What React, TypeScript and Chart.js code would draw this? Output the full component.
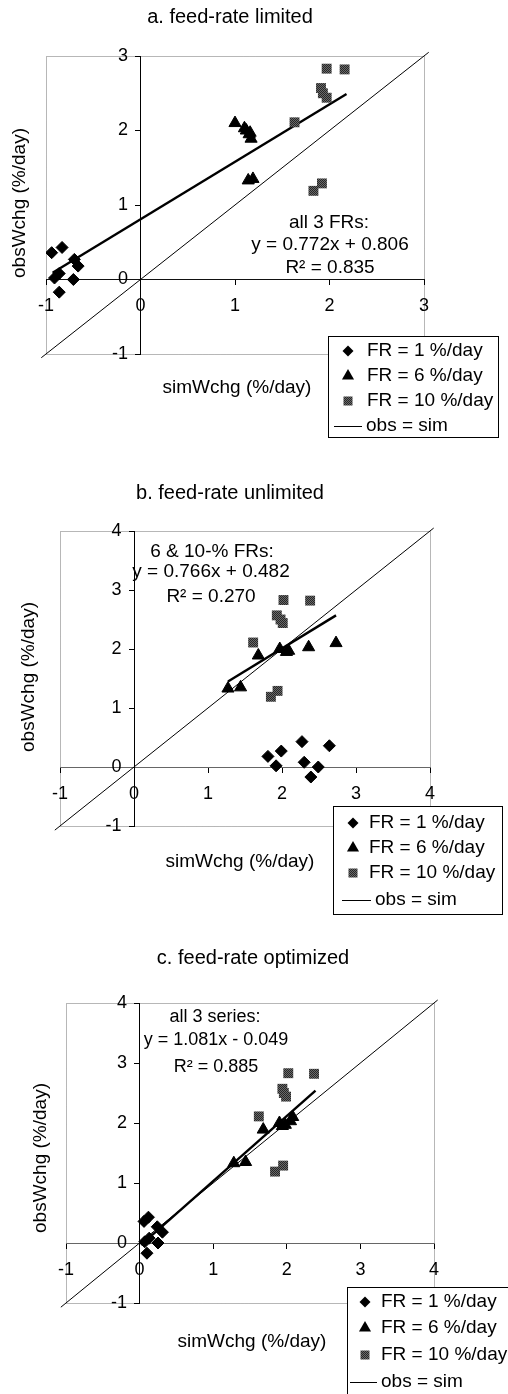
import React, { useEffect, useRef } from 'react';
import { Chart, registerables } from 'chart.js';

Chart.register(...registerables);

const FONT = "'Liberation Sans', Arial, Helvetica, sans-serif";

// observed weight change (%/day), shared by the three panels
const obsFR1 = [0.36, 0.43, 0.27, 0.18, 0.02, 0.08, 0.0, -0.17];
const obsFR6 = [1.33, 1.35, 1.89, 1.95, 2.0, 1.97, 2.03, 2.1];
const obsFR10 = [2.83, 2.82, 2.57, 2.5, 2.44, 2.11, 1.19, 1.29];

// simulated weight change (%/day) – a. feed-rate limited
const simA_FR1 = [-0.94, -0.83, -0.7, -0.66, -0.91, -0.86, -0.71, -0.86];
const simA_FR6 = [1.14, 1.19, 1.17, 1.15, 1.12, 1.16, 1.1, 1.0];
const simA_FR10 = [1.97, 2.16, 1.91, 1.93, 1.97, 1.63, 1.83, 1.92];
// b. feed-rate unlimited
const simB_FR1 = [2.64, 2.27, 1.99, 1.81, 1.92, 2.3, 2.49, 2.39];
const simB_FR6 = [1.27, 1.44, 1.68, 2.06, 1.97, 2.09, 2.36, 2.73];
const simB_FR10 = [2.02, 2.38, 1.93, 1.98, 2.01, 1.61, 1.85, 1.94];
// c. feed-rate optimized
const simC_FR1 = [0.06, 0.12, 0.24, 0.31, 0.07, 0.13, 0.25, 0.1];
const simC_FR6 = [1.28, 1.44, 1.68, 1.94, 1.9, 1.98, 2.05, 2.08];
const simC_FR10 = [2.02, 2.37, 1.94, 1.96, 1.99, 1.62, 1.84, 1.95];

// regression line end points
const fitA_x = [-0.93, 2.18];
const fitA_y = [0.09, 2.49];
const fitB_x = [1.27, 2.73];
const fitB_y = [1.45, 2.57];
const fitC_x = [0.02, 2.39];
const fitC_y = [-0.03, 2.54];

// obs = sim line end points
const identityA = [-1.05, 3.05];
const identityBC = [-1.07, 4.05];

// tick values
const ticksA = [-1, 0, 1, 2, 3];
const ticksBC = [-1, 0, 1, 2, 3, 4];

const legendLabels = ['FR = 1 %/day', 'FR = 6 %/day', 'FR = 10 %/day', 'obs = sim'];
const panelTitles = ['a. feed-rate limited', 'b. feed-rate unlimited', 'c. feed-rate optimized'];
const xTitle = 'simWchg (%/day)';
const yTitle = 'obsWchg (%/day)';
const eqA = ['all 3 FRs:', 'y = 0.772x + 0.806', 'R\u00B2 = 0.835'];
const eqB = ['6 & 10-% FRs:', 'y = 0.766x + 0.482', 'R\u00B2 = 0.270'];
const eqC = ['all 3 series:', 'y = 1.081x - 0.049', 'R\u00B2 = 0.885'];

type Panel = {
  top: number;
  height: number;
  area: { l: number; r: number; t: number; b: number };
  ticks: number[];
  sim1: number[];
  sim6: number[];
  sim10: number[];
  fitX: number[];
  fitY: number[];
  identity: number[];
  title: string;
  titlePos: [number, number];
  eq: string[];
  eqPos: [number, number][];
  xTitlePos: [number, number];
  yTitlePos: [number, number];
  legend: { box: [number, number, number, number]; rows: number[]; markerX: number; textX: number; lineX: [number, number] };
  eqSize: number;
};

const panels: Panel[] = [
  {
    top: 0,
    height: 460,
    area: { l: 46, r: 424, t: 56, b: 354 },
    ticks: ticksA,
    sim1: simA_FR1,
    sim6: simA_FR6,
    sim10: simA_FR10,
    fitX: fitA_x,
    fitY: fitA_y,
    identity: identityA,
    title: panelTitles[0],
    titlePos: [230, 17],
    eq: eqA,
    eqPos: [[329, 223], [330, 245], [330, 268]],
    xTitlePos: [237, 388],
    yTitlePos: [20, 203],
    legend: { box: [328, 336, 498, 437], rows: [351, 376, 401, 426], markerX: 348, textX: 367, lineX: [334, 362] },
    eqSize: 19,
  },
  {
    top: 460,
    height: 470,
    area: { l: 60, r: 430, t: 531, b: 826 },
    ticks: ticksBC,
    sim1: simB_FR1,
    sim6: simB_FR6,
    sim10: simB_FR10,
    fitX: fitB_x,
    fitY: fitB_y,
    identity: identityBC,
    title: panelTitles[1],
    titlePos: [230, 493],
    eq: eqB,
    eqPos: [[212, 552], [211, 572], [211, 597]],
    xTitlePos: [240, 862],
    yTitlePos: [29, 677],
    legend: { box: [333, 806, 502, 914], rows: [823, 848, 873, 900], markerX: 353, textX: 369, lineX: [342, 371] },
    eqSize: 19,
  },
  {
    top: 930,
    height: 464,
    area: { l: 66, r: 434, t: 1003, b: 1303 },
    ticks: ticksBC,
    sim1: simC_FR1,
    sim6: simC_FR6,
    sim10: simC_FR10,
    fitX: fitC_x,
    fitY: fitC_y,
    identity: identityBC,
    title: panelTitles[2],
    titlePos: [253, 958],
    eq: eqC,
    eqPos: [[215, 1017], [216, 1040], [216, 1067]],
    xTitlePos: [252, 1342],
    yTitlePos: [41, 1158],
    legend: { box: [347, 1287, 512, 1400], rows: [1302, 1328, 1355, 1382], markerX: 365, textX: 381, lineX: [350, 377] },
    eqSize: 18,
  },
];

function makePattern(): CanvasPattern | string {
  const c = document.createElement('canvas');
  c.width = 2;
  c.height = 2;
  const g = c.getContext('2d');
  if (!g) return '#505050';
  g.fillStyle = '#6a6a6a';
  g.fillRect(0, 0, 2, 2);
  g.fillStyle = '#262626';
  g.fillRect(0, 0, 1, 1);
  g.fillRect(1, 1, 1, 1);
  const pat = g.createPattern(c, 'repeat');
  return pat || '#505050';
}

function zip(xs: number[], ys: number[]) {
  return xs.map((x, i) => ({ x, y: ys[i] }));
}

function drawMarker(ctx: CanvasRenderingContext2D, kind: number, x: number, y: number, fill: any) {
  ctx.save();
  ctx.fillStyle = fill;
  ctx.beginPath();
  if (kind === 0) {
    const r = 5.5;
    ctx.moveTo(x, y - r);
    ctx.lineTo(x + r, y);
    ctx.lineTo(x, y + r);
    ctx.lineTo(x - r, y);
    ctx.closePath();
    ctx.fill();
  } else if (kind === 1) {
    const r = 7;
    ctx.moveTo(x, y - r);
    ctx.lineTo(x + r * 0.866, y + r * 0.5);
    ctx.lineTo(x - r * 0.866, y + r * 0.5);
    ctx.closePath();
    ctx.fill();
  } else {
    ctx.fillRect(x - 4.5, y - 4.5, 9, 9);
  }
  ctx.restore();
}

function buildChart(canvas: HTMLCanvasElement, p: Panel) {
  const off = p.top;
  const pattern = makePattern();
  const axisMax = p.ticks[p.ticks.length - 1];
  const axisMin = p.ticks[0];

  const deco = {
    id: 'deco' + off,
    beforeDraw(chart: any) {
      const ctx: CanvasRenderingContext2D = chart.ctx;
      const a = chart.chartArea;
      ctx.save();
      ctx.fillStyle = '#ffffff';
      ctx.fillRect(0, 0, chart.width, chart.height);
      ctx.strokeStyle = '#6f6f6f';
      ctx.lineWidth = 1;
      ctx.setLineDash([1, 1]);
      ctx.strokeRect(Math.round(a.left) + 0.5, Math.round(a.top) + 0.5, Math.round(a.right - a.left), Math.round(a.bottom - a.top));
      ctx.restore();
    },
    afterDraw(chart: any) {
      const ctx: CanvasRenderingContext2D = chart.ctx;
      ctx.save();
      ctx.fillStyle = '#000';
      ctx.textAlign = 'center';
      ctx.textBaseline = 'middle';
      // panel title
      ctx.font = `20px ${FONT}`;
      ctx.fillText(p.title, p.titlePos[0], p.titlePos[1] - off);
      // regression annotation
      ctx.font = `${p.eqSize}px ${FONT}`;
      p.eq.forEach((t, i) => ctx.fillText(t, p.eqPos[i][0], p.eqPos[i][1] - off));
      // axis titles
      ctx.font = `19px ${FONT}`;
      ctx.fillText(xTitle, p.xTitlePos[0], p.xTitlePos[1] - off);
      ctx.save();
      ctx.translate(p.yTitlePos[0], p.yTitlePos[1] - off);
      ctx.rotate(-Math.PI / 2);
      ctx.fillText(yTitle, 0, 0);
      ctx.restore();
      // legend
      const [l, t, r, b] = p.legend.box;
      ctx.fillStyle = '#fff';
      ctx.fillRect(l, t - off, r - l, b - t);
      ctx.strokeStyle = '#000';
      ctx.lineWidth = 1;
      ctx.strokeRect(l + 0.5, t - off + 0.5, r - l, b - t);
      ctx.font = `19px ${FONT}`;
      ctx.textAlign = 'left';
      legendLabels.forEach((lab, i) => {
        const y = p.legend.rows[i] - off;
        if (i < 3) {
          drawMarker(ctx, i, p.legend.markerX, y, i === 2 ? pattern : '#000');
        } else {
          ctx.beginPath();
          ctx.strokeStyle = '#000';
          ctx.lineWidth = 1;
          ctx.moveTo(p.legend.lineX[0], Math.round(y) + 0.5);
          ctx.lineTo(p.legend.lineX[1], Math.round(y) + 0.5);
          ctx.stroke();
        }
        ctx.fillStyle = '#000';
        ctx.fillText(lab, i < 3 ? p.legend.textX : p.legend.lineX[1] + 4, y);
      });
      ctx.restore();
    },
  };

  const tickFont = { size: 18, family: FONT };
  const xDash = off === 0 ? [] : [2, 1];
  const xColor = off === 0 ? '#111' : '#666';

  return new Chart(canvas, {
    type: 'scatter',
    data: {
      datasets: [
        {
          label: legendLabels[0],
          data: zip(p.sim1, obsFR1),
          pointStyle: 'rectRot',
          pointRadius: 6,
          backgroundColor: '#000',
          borderColor: '#000',
          borderWidth: 1,
        },
        {
          label: legendLabels[1],
          data: zip(p.sim6, obsFR6),
          pointStyle: 'triangle',
          pointRadius: 7,
          backgroundColor: '#000',
          borderColor: '#000',
          borderWidth: 1,
        },
        {
          label: legendLabels[2],
          data: zip(p.sim10, obsFR10),
          pointStyle: 'rect',
          pointRadius: 7,
          backgroundColor: pattern as any,
          borderColor: 'rgba(0,0,0,0)',
          borderWidth: 0,
        },
        {
          label: 'regression',
          data: zip(p.fitX, p.fitY),
          showLine: true,
          borderColor: '#000',
          borderWidth: 2.4,
          pointRadius: 0,
          clip: false as any,
        },
        {
          label: legendLabels[3],
          data: zip(p.identity, p.identity),
          showLine: true,
          borderColor: '#000',
          borderWidth: 1,
          pointRadius: 0,
          clip: false as any,
        },
      ],
    },
    options: {
      responsive: false,
      animation: false,
      events: [],
      layout: {
        padding: {
          left: p.area.l,
          right: 508 - p.area.r,
          top: p.area.t - off,
          bottom: off + p.height - p.area.b,
        },
      },
      plugins: { legend: { display: false }, tooltip: { enabled: false }, title: { display: false } },
      scales: {
        x: {
          type: 'linear',
          min: axisMin,
          max: axisMax,
          position: { y: 0 } as any,
          afterBuildTicks: (s: any) => {
            s.ticks = p.ticks.map((v) => ({ value: v }));
          },
          grid: { drawOnChartArea: false, drawTicks: true, tickLength: 5, color: '#000' },
          border: { display: true, color: xColor, width: 1, dash: xDash },
          ticks: { font: tickFont, color: '#000', padding: 11, maxRotation: 0, autoSkip: false },
        },
        y: {
          type: 'linear',
          min: axisMin,
          max: axisMax,
          position: { x: 0 } as any,
          afterBuildTicks: (s: any) => {
            s.ticks = p.ticks.map((v) => ({ value: v }));
          },
          grid: { drawOnChartArea: false, drawTicks: true, tickLength: 5, color: '#000' },
          border: { display: true, color: '#000', width: 1 },
          ticks: {
            font: tickFont,
            color: '#000',
            padding: 8,
            autoSkip: false,
            // the crossing axis places labels at the axis pixel; trailing spaces keep the gap
            callback: (v: any) => String(v) + '\u2002\u2009',
          },
        },
      },
    },
    plugins: [deco],
  } as any);
}

function PanelCanvas({ p }: { p: Panel }) {
  const ref = useRef<HTMLCanvasElement | null>(null);
  useEffect(() => {
    if (!ref.current) return;
    const chart = buildChart(ref.current, p);
    return () => chart.destroy();
  }, [p]);
  return (
    <canvas
      ref={ref}
      width={508}
      height={p.height}
      style={{ position: 'absolute', left: 0, top: p.top, width: 508, height: p.height, display: 'block' }}
    />
  );
}

export default function App() {
  return (
    <div style={{ position: 'absolute', left: 0, top: 0, width: 508, height: 1394, background: '#fff', overflow: 'hidden' }}>
      {panels.map((p, i) => (
        <PanelCanvas key={i} p={p} />
      ))}
    </div>
  );
}
